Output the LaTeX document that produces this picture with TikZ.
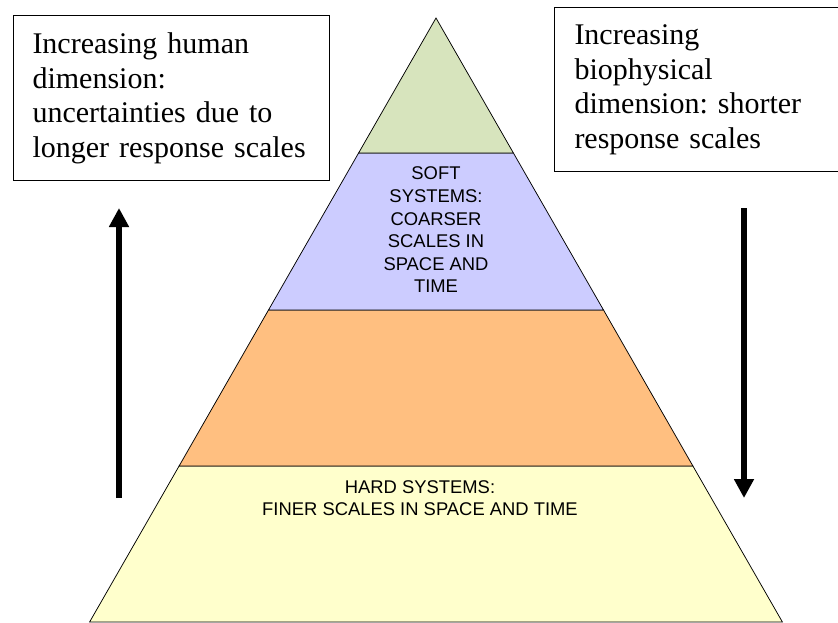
\documentclass[tikz,border=0pt]{standalone}
\usepackage{fontspec}
\setmainfont{Liberation Serif}
\setsansfont{Liberation Sans}
\usetikzlibrary{arrows.meta}
\frenchspacing

\definecolor{topgreen}{HTML}{D7E4BD}
\definecolor{softblue}{HTML}{CCCCFF}
\definecolor{midorange}{HTML}{FFBF80}
\definecolor{hardyellow}{HTML}{FFFFCC}

\tikzset{
  band/.style={draw=black, line width=0.75pt},
  notebox/.style={draw=black, line width=1pt, fill=white, anchor=north west,
    align=left, inner xsep=19pt, inner ysep=17pt,
    font=\fontsize{30}{34.7}\selectfont},
  layertext/.style={align=center, inner sep=0pt,
    font=\sffamily\fontsize{18.4}{22.6}\selectfont},
  trend/.style={line width=6pt, -{Triangle[width=19pt,length=19pt]}}
}

\begin{document}
\begin{tikzpicture}[x=1pt,y=-1pt]
\useasboundingbox (0,0) rectangle (838,622);
\clip (0,0) rectangle (838,622);
\fill[white] (0,0) rectangle (838,622);

\coordinate (apex) at (436,18);
\coordinate (g-l) at (358.6,153); \coordinate (g-r) at (513.4,153);
\coordinate (p-l) at (268.5,310); \coordinate (p-r) at (603.5,310);
\coordinate (o-l) at (179.1,466); \coordinate (o-r) at (692.9,466);
\coordinate (y-l) at (89.6,622);  \coordinate (y-r) at (782.4,622);

\filldraw[band, fill=hardyellow] (o-l) -- (o-r) -- (y-r) -- (y-l) -- cycle;
\filldraw[band, fill=midorange] (p-l) -- (p-r) -- (o-r) -- (o-l) -- cycle;
\filldraw[band, fill=softblue] (g-l) -- (g-r) -- (p-r) -- (p-l) -- cycle;
\filldraw[band, fill=topgreen] (apex) -- (g-r) -- (g-l) -- cycle;

\node[layertext] (soft) at (436,230)
  {SOFT\\SYSTEMS:\\COARSER\\SCALES IN\\SPACE AND\\TIME};
\node[layertext] (hard) at (420,498)
  {HARD SYSTEMS:\\FINER SCALES IN SPACE AND TIME};

\node[notebox, text width=278pt] (human) at (13,15)
  {Increasing human\\dimension:\\uncertainties due to\\longer response scales\par\vspace{7pt}};
\node[notebox, text width=290pt, inner xsep=20pt] (bio) at (554,7)
  {Increasing\\biophysical\\dimension: shorter\\response scales\par\vspace{23.5pt}};

\coordinate (up-s) at (119,498);   \coordinate (up-e) at (119,208);
\coordinate (down-s) at (744,208); \coordinate (down-e) at (744,498);
\draw[trend] (up-s) -- (up-e);
\draw[trend] (down-s) -- (down-e);

\end{tikzpicture}
\end{document}
